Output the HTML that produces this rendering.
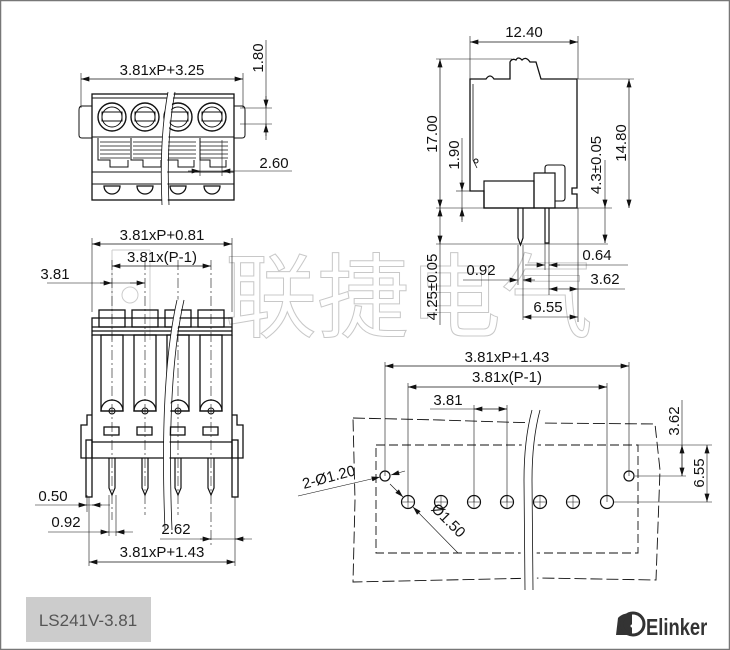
<!DOCTYPE html>
<html><head><meta charset="utf-8"><style>
html,body{margin:0;padding:0;background:#fff}
svg{display:block}
text{font-family:"Liberation Sans",Arial,sans-serif;font-size:15px;fill:#111}
</style></head><body>
<svg width="730" height="650" viewBox="0 0 730 650" xmlns="http://www.w3.org/2000/svg">
<defs>
<marker id="a" viewBox="0 0 10 6" refX="10" refY="3" markerWidth="9" markerHeight="5" orient="auto-start-reverse" markerUnits="userSpaceOnUse"><path d="M0,0L10,3L0,6z" fill="#111"/></marker>
</defs>
<rect x="0.5" y="0.5" width="729" height="649" fill="#fff" stroke="#777" stroke-width="1.5"/>

<text x="225" y="330" style="fill:none;stroke:#c8c8c8;stroke-width:1;font-family:'Noto Sans CJK SC',sans-serif;font-size:92px">联捷电气</text>
<circle cx="130" cy="295" r="8" fill="none" stroke="#ccc"/>
<path d="M112 250 V340 M150 250 V340 M112 250 H150" fill="none" stroke="#ccc"/>

<g stroke="#111" fill="none" stroke-width="1">
<line x1="81" y1="79" x2="243" y2="79" marker-start="url(#a)" marker-end="url(#a)" stroke-width="0.7"/>
<line x1="81" y1="73" x2="81" y2="108" stroke-width="0.6"/>
<line x1="243" y1="73" x2="243" y2="108" stroke-width="0.6"/>
<rect x="92" y="94" width="142" height="106" stroke-width="1.3"/>
<line x1="92" y1="98" x2="234" y2="98"/>
<path d="M92 106 H82 Q79 106 79 110 V135 Q79 138 82 138 H92"/>
<path d="M234 106 H242 Q245 106 245 110 V135 Q245 138 242 138 H234"/>
<g stroke-width="1.4">
<circle cx="112" cy="117" r="14"/><circle cx="145" cy="117" r="14"/><circle cx="178" cy="117" r="14"/><circle cx="212" cy="117" r="14"/>
</g>
<circle cx="112" cy="117" r="10"/><circle cx="145" cy="117" r="10"/><circle cx="178" cy="117" r="10"/><circle cx="212" cy="117" r="10"/>
<rect x="102" y="112" width="20" height="9"/><rect x="135" y="112" width="20" height="9"/><rect x="168" y="112" width="20" height="9"/><rect x="202" y="112" width="20" height="9"/>
<line x1="92" y1="137" x2="234" y2="137"/>
<g stroke-width="0.8">
<path d="M100 142H130M100 146H130M100 150H130M100 154H130M100 158H130"/>
<path d="M133 142H163M133 146H163M133 150H163M133 154H163M133 158H163"/>
<path d="M168 142H196M168 146H196M168 150H196M168 154H196M168 158H196"/>
<path d="M200 142H228M200 146H228M200 150H228M200 154H228M200 158H228"/>
</g>
<path d="M98 138V160H110V167H128V160M131 138V160H143V167H161V160M166 138V160H178V167H194V160M200 138V160H210V167H226V160"/>
<line x1="92" y1="172" x2="234" y2="172"/>
<line x1="92" y1="184" x2="234" y2="184"/>
<g stroke-width="1.3">
<path d="M104 186 A8 8 0 0 0 120 186Z"/><path d="M137 186 A8 8 0 0 0 153 186Z"/><path d="M170 186 A8 8 0 0 0 186 186Z"/><path d="M204 186 A8 8 0 0 0 220 186Z"/>
</g>
<path d="M171 92 Q162 140 165 205" stroke="#fff" stroke-width="6"/>
<path d="M168 92 Q159 140 162 205 M175 92 Q166 140 169 205" stroke-width="0.8"/>
<line x1="266" y1="40" x2="266" y2="140" stroke-width="0.6"/>
<line x1="240" y1="108" x2="272" y2="108" stroke-width="0.6"/>
<line x1="240" y1="124" x2="272" y2="124" stroke-width="0.6"/>
<line x1="266" y1="96" x2="266" y2="108" marker-end="url(#a)" stroke-width="0.6"/>
<line x1="266" y1="136" x2="266" y2="124" marker-end="url(#a)" stroke-width="0.6"/>
<line x1="200" y1="171" x2="292" y2="171" stroke-width="0.6"/>
<line x1="188" y1="171" x2="200" y2="171" marker-end="url(#a)" stroke-width="0.6"/>
<line x1="224" y1="171" x2="222" y2="171" marker-end="url(#a)" stroke-width="0.6"/>
<line x1="200" y1="140" x2="200" y2="176" stroke-width="0.6"/>
<line x1="222" y1="140" x2="222" y2="176" stroke-width="0.6"/>

<line x1="92" y1="244" x2="232" y2="244" marker-start="url(#a)" marker-end="url(#a)" stroke-width="0.7"/>
<line x1="92" y1="238" x2="92" y2="312" stroke-width="0.6"/>
<line x1="232" y1="238" x2="232" y2="312" stroke-width="0.6"/>
<line x1="112" y1="266" x2="211" y2="266" marker-start="url(#a)" marker-end="url(#a)" stroke-width="0.7"/>
<line x1="47" y1="283" x2="145" y2="283" stroke-width="0.6"/>
<line x1="100" y1="283" x2="112" y2="283" marker-end="url(#a)" stroke-width="0.6"/>
<line x1="130" y1="283" x2="145" y2="283" marker-end="url(#a)" stroke-width="0.6"/>
<g stroke-width="0.6" stroke-dasharray="10,3,2,3">
<line x1="112" y1="260" x2="112" y2="520"/><line x1="145" y1="260" x2="145" y2="515"/><line x1="178" y1="260" x2="178" y2="515"/><line x1="211" y1="260" x2="211" y2="545"/>
</g>
<g stroke-width="1.3">
<rect x="99" y="310" width="26" height="17"/><rect x="132" y="310" width="26" height="17"/><rect x="165" y="310" width="26" height="17"/><rect x="198" y="310" width="26" height="17"/>
<rect x="92" y="318" width="140" height="17"/>
<line x1="92" y1="327" x2="232" y2="327"/><line x1="92" y1="331" x2="232" y2="331"/>
<path d="M92 335 V458 H232 V335"/>
<line x1="92" y1="442" x2="232" y2="442"/>
<rect x="101" y="335" width="22" height="76"/><rect x="134" y="335" width="22" height="76"/><rect x="167" y="335" width="22" height="76"/><rect x="200" y="335" width="22" height="76"/>
<path d="M101 411 A11 11 0 0 1 123 411Z M134 411 A11 11 0 0 1 156 411Z M167 411 A11 11 0 0 1 189 411Z M200 411 A11 11 0 0 1 222 411Z"/>
<rect x="104" y="427" width="15" height="8"/><rect x="137" y="427" width="15" height="8"/><rect x="170" y="427" width="15" height="8"/><rect x="203" y="427" width="15" height="8"/>
<path d="M92 415 H87 V425 H81 V458 H92"/><path d="M232 415 H237 V425 H243 V458 H232"/>
<rect x="86" y="440" width="6" height="57"/><rect x="232" y="440" width="6" height="57"/>
</g>
<g stroke-width="1.2">
<path d="M109 458 V488 L112 495 L115 488 V458 M142 458 V488 L145 495 L148 488 V458 M175 458 V488 L178 495 L181 488 V458 M208 458 V488 L211 495 L214 488 V458"/>
</g>
<circle cx="112" cy="411" r="3"/><circle cx="145" cy="411" r="3"/><circle cx="178" cy="411" r="3"/><circle cx="211" cy="411" r="3"/>
<path d="M180 300 Q162 380 168 530" stroke="#fff" stroke-width="6"/>
<path d="M177 300 Q159 380 165 530 M184 300 Q166 380 172 530" stroke-width="0.8"/>
<line x1="35" y1="505" x2="110" y2="505" stroke-width="0.6"/>
<line x1="78" y1="505" x2="87" y2="505" marker-end="url(#a)" stroke-width="0.6"/>
<line x1="102" y1="505" x2="92" y2="505" marker-end="url(#a)" stroke-width="0.6"/>
<line x1="87" y1="495" x2="87" y2="512" stroke-width="0.6"/>
<line x1="48" y1="532" x2="133" y2="532" stroke-width="0.6"/>
<line x1="100" y1="532" x2="109" y2="532" marker-end="url(#a)" stroke-width="0.6"/>
<line x1="125" y1="532" x2="116" y2="532" marker-end="url(#a)" stroke-width="0.6"/>
<line x1="109" y1="495" x2="109" y2="536" stroke-width="0.6"/>
<line x1="116" y1="495" x2="116" y2="536" stroke-width="0.6"/>
<line x1="160" y1="539" x2="252" y2="539" stroke-width="0.6"/>
<line x1="200" y1="539" x2="211" y2="539" marker-end="url(#a)" stroke-width="0.6"/>
<line x1="245" y1="539" x2="235" y2="539" marker-end="url(#a)" stroke-width="0.6"/>
<line x1="89" y1="562" x2="235" y2="562" marker-start="url(#a)" marker-end="url(#a)" stroke-width="0.7"/>
<line x1="89" y1="497" x2="89" y2="566" stroke-width="0.6"/>
<line x1="235" y1="497" x2="235" y2="566" stroke-width="0.6"/>

<line x1="470" y1="42" x2="578" y2="42" marker-start="url(#a)" marker-end="url(#a)" stroke-width="0.7"/>
<line x1="470" y1="36" x2="470" y2="79" stroke-width="0.6"/>
<line x1="578" y1="36" x2="578" y2="79" stroke-width="0.6"/>
<path d="M470 79 H486 Q490 73 494 79 H510 V62 Q512 58 516 60 Q518 56 522 60 Q526 56 530 62 H536 L541 79 H577 V188 H572 V194 H577 V208 H484 V191 H470 Z" stroke-width="1.3"/>
<path d="M473 84 V160 L477 168" stroke-width="0.8"/><circle cx="476" cy="161" r="2"/>
<rect x="484" y="181" width="50" height="27" stroke-width="1.2"/>
<rect x="534" y="173" width="21" height="35" stroke-width="1.2"/>
<path d="M545 173 V168 Q545 165 548 165 H562 Q565 165 565 168 V198 Q565 201 562 201 H555" stroke-width="1.1"/>
<path d="M518 208 V238 L520.5 245 L523 238 V208 M545 208 V243 H549 V208" stroke-width="1.2"/>
<line x1="440" y1="59" x2="440" y2="208" marker-start="url(#a)" marker-end="url(#a)" stroke-width="0.7"/>
<line x1="436" y1="59" x2="512" y2="59" stroke-width="0.6"/>
<line x1="436" y1="208" x2="612" y2="208" stroke-width="0.6"/>
<line x1="462" y1="138" x2="462" y2="222" stroke-width="0.6"/>
<line x1="456" y1="191" x2="472" y2="191" stroke-width="0.6"/>
<line x1="462" y1="180" x2="462" y2="191" marker-end="url(#a)" stroke-width="0.6"/>
<line x1="462" y1="220" x2="462" y2="208" marker-end="url(#a)" stroke-width="0.6"/>
<line x1="629" y1="79" x2="629" y2="208" marker-start="url(#a)" marker-end="url(#a)" stroke-width="0.7"/>
<line x1="578" y1="79" x2="634" y2="79" stroke-width="0.6"/>
<line x1="605" y1="160" x2="605" y2="243" stroke-width="0.6"/>
<line x1="605" y1="200" x2="605" y2="208" marker-end="url(#a)" stroke-width="0.6"/>
<line x1="605" y1="236" x2="605" y2="243" marker-end="url(#a)" stroke-width="0.6"/>
<line x1="436" y1="244" x2="608" y2="244" stroke-width="0.6"/>
<line x1="440" y1="208" x2="440" y2="325" stroke-width="0.6"/>
<line x1="440" y1="215" x2="440" y2="208" marker-end="url(#a)" stroke-width="0.6"/>
<line x1="440" y1="236" x2="440" y2="244" marker-end="url(#a)" stroke-width="0.6"/>
<line x1="518" y1="245" x2="518" y2="285" stroke-width="0.6"/>
<line x1="523" y1="245" x2="523" y2="320" stroke-width="0.6"/>
<line x1="545" y1="243" x2="545" y2="270" stroke-width="0.6"/>
<line x1="549" y1="243" x2="549" y2="295" stroke-width="0.6"/>
<line x1="578" y1="208" x2="578" y2="322" stroke-width="0.6"/>
<line x1="525" y1="265" x2="545" y2="265" marker-end="url(#a)" stroke-width="0.6"/>
<line x1="560" y1="265" x2="549" y2="265" marker-end="url(#a)" stroke-width="0.6"/>
<line x1="549" y1="265" x2="628" y2="265" stroke-width="0.6"/>
<line x1="463" y1="280" x2="518" y2="280" marker-end="url(#a)" stroke-width="0.6"/>
<line x1="535" y1="280" x2="523" y2="280" marker-end="url(#a)" stroke-width="0.6"/>
<line x1="549" y1="289" x2="578" y2="289" marker-start="url(#a)" marker-end="url(#a)" stroke-width="0.6"/>
<line x1="578" y1="289" x2="625" y2="289" stroke-width="0.6"/>
<line x1="523" y1="317" x2="578" y2="317" marker-start="url(#a)" marker-end="url(#a)" stroke-width="0.6"/>

<line x1="385" y1="366" x2="629" y2="366" marker-start="url(#a)" marker-end="url(#a)" stroke-width="0.7"/>
<line x1="408" y1="387" x2="607" y2="387" marker-start="url(#a)" marker-end="url(#a)" stroke-width="0.7"/>
<line x1="430" y1="409" x2="507" y2="409" stroke-width="0.6"/>
<line x1="474" y1="409" x2="507" y2="409" marker-start="url(#a)" marker-end="url(#a)" stroke-width="0.6"/>
<g stroke-width="0.6">
<line x1="385" y1="362" x2="385" y2="476"/><line x1="629" y1="362" x2="629" y2="476"/>
<line x1="408" y1="383" x2="408" y2="502"/><line x1="607" y1="383" x2="607" y2="502"/>
<line x1="474" y1="405" x2="474" y2="502"/><line x1="507" y1="405" x2="507" y2="502"/>
</g>
<rect x="376" y="445" width="262" height="108" stroke-dasharray="9,4" stroke-width="0.9"/>
<path d="M353 418 L440 420 Q500 422 540 423 L655 424 L660 470 L656 580 L540 578 L353 582 L355 500 Z" stroke-dasharray="12,4" stroke-width="0.9"/>
<path d="M532 410 Q524 440 524 480 L525 590 M540 410 Q532 440 532 480 L533 590" stroke="#fff" stroke-width="8"/>
<path d="M532 410 Q524 440 524 480 L525 590 M540 410 Q532 440 532 480 L533 590" stroke-width="0.8"/>
<g stroke-width="1.2">
<circle cx="385" cy="476" r="5"/><circle cx="629" cy="476" r="5"/>
<circle cx="408" cy="502" r="6.5"/><circle cx="441" cy="502" r="6.5"/><circle cx="474" cy="502" r="6.5"/><circle cx="507" cy="502" r="6.5"/><circle cx="540" cy="502" r="6.5"/><circle cx="573" cy="502" r="6.5"/><circle cx="607" cy="502" r="6.5"/>
</g>
<g stroke-width="0.5">
<path d="M441 496V508M435 502H447M474 496V508M468 502H480M507 496V508M501 502H513M540 496V508M534 502H546M573 496V508M567 502H579M402 502H414M408 496V508"/>
</g>
<line x1="298" y1="496" x2="380" y2="477" marker-end="url(#a)" stroke-width="0.6"/>
<line x1="405" y1="471" x2="391" y2="475" marker-end="url(#a)" stroke-width="0.6"/>
<line x1="390" y1="484" x2="403" y2="497" marker-end="url(#a)" stroke-width="0.6"/>
<line x1="458" y1="553" x2="413" y2="507" marker-end="url(#a)" stroke-width="0.6"/>
<line x1="638" y1="445" x2="712" y2="445" stroke-width="0.6"/>
<line x1="635" y1="476" x2="686" y2="476" stroke-width="0.6"/>
<line x1="613" y1="502" x2="712" y2="502" stroke-width="0.6"/>
<line x1="682" y1="400" x2="682" y2="476" stroke-width="0.6"/>
<line x1="682" y1="445" x2="682" y2="476" marker-start="url(#a)" marker-end="url(#a)" stroke-width="0.6"/>
<line x1="707" y1="445" x2="707" y2="502" marker-start="url(#a)" marker-end="url(#a)" stroke-width="0.6"/>
</g>

<g text-anchor="middle">
<text x="162" y="75">3.81xP+3.25</text>
<text x="274" y="168">2.60</text>
<text x="162" y="240">3.81xP+0.81</text>
<text x="162" y="262">3.81x(P-1)</text>
<text x="55" y="279">3.81</text>
<text x="53" y="501">0.50</text>
<text x="66" y="527">0.92</text>
<text x="176" y="534">2.62</text>
<text x="162" y="557">3.81xP+1.43</text>
<text x="524" y="37">12.40</text>
<text x="597" y="260">0.64</text>
<text x="481" y="275">0.92</text>
<text x="605" y="284">3.62</text>
<text x="548" y="312">6.55</text>
<text x="507" y="362">3.81xP+1.43</text>
<text x="507" y="382">3.81x(P-1)</text>
<text x="448" y="405">3.81</text>
<text transform="translate(263,58) rotate(-90)">1.80</text>
<text transform="translate(437,134) rotate(-90)">17.00</text>
<text transform="translate(459,155) rotate(-90)">1.90</text>
<text transform="translate(626,143) rotate(-90)">14.80</text>
<text transform="translate(601,165) rotate(-90)">4.3±0.05</text>
<text transform="translate(437,287) rotate(-90)">4.25±0.05</text>
<text transform="translate(679,421) rotate(-90)">3.62</text>
<text transform="translate(704,473) rotate(-90)">6.55</text>
<text transform="translate(330,482) rotate(-15)">2-Ø1.20</text>
<text transform="translate(445,524) rotate(45)">Ø1.50</text>
</g>

<rect x="26" y="597" width="125" height="45" fill="#cccccc"/>
<text x="88" y="626" text-anchor="middle" style="font-size:17px;fill:#555">LS241V-3.81</text>
<path d="M616 635 L618 618 Q622 613 632 613 L632 635 Z" fill="#333"/>
<circle cx="633" cy="624" r="11" fill="none" stroke="#333" stroke-width="3"/>
<circle cx="632" cy="626" r="1.5" fill="#fff"/>
<text x="646" y="635" style="font-size:23px;font-weight:bold;fill:#333" transform="translate(646,635) scale(0.8,1) translate(-646,-635)">Elinker</text>
</svg>
</body></html>
